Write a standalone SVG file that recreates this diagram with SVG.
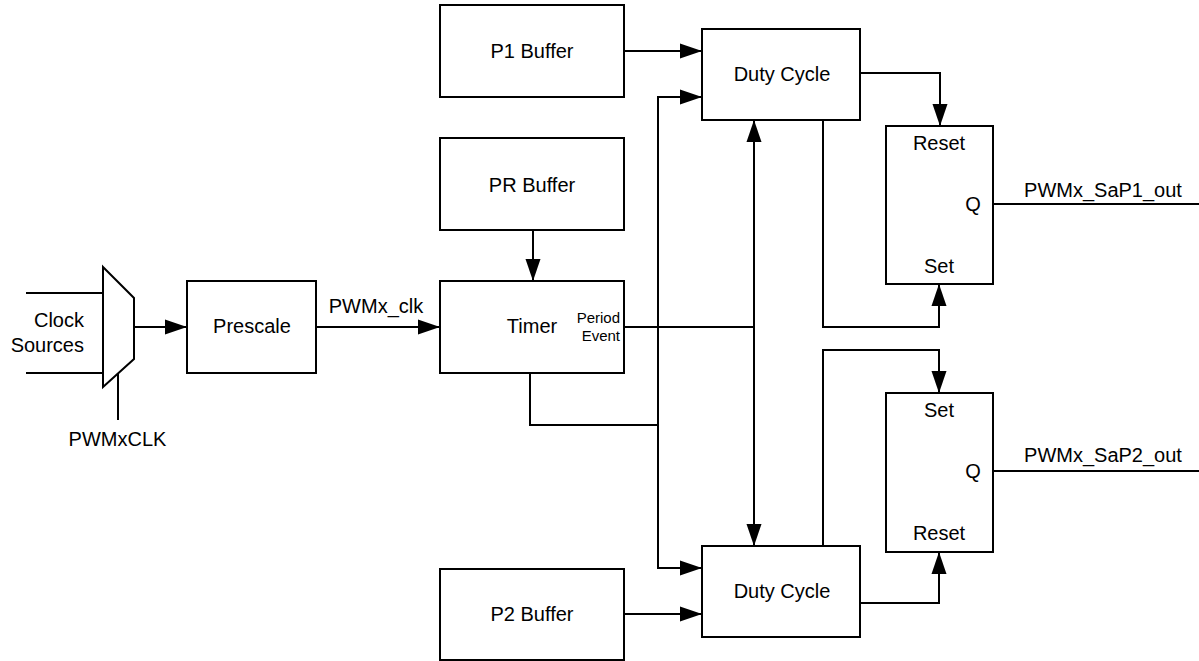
<svg xmlns="http://www.w3.org/2000/svg" width="1199" height="661" viewBox="0 0 1199 661">
<style>
.box{fill:#fff;stroke:#000;stroke-width:2}
.ln{fill:none;stroke:#000;stroke-width:2}
.t{font-family:"Liberation Sans",Arial,sans-serif;font-size:20px;fill:#000;text-anchor:middle}
.s{font-family:"Liberation Sans",Arial,sans-serif;font-size:15px;fill:#000;text-anchor:end}
</style>
<defs>
<marker id="ah" markerUnits="userSpaceOnUse" markerWidth="24" markerHeight="16" refX="22" refY="8" orient="auto-start-reverse" viewBox="0 0 24 16">
<path d="M0,0.5 L22,8 L0,15.5 z" fill="#000"/>
</marker>
</defs>
<rect width="1199" height="661" fill="#fff"/>
<g id="connectors">
<line class="ln" x1="26" y1="293" x2="103" y2="293"/>
<line class="ln" x1="26" y1="373" x2="103" y2="373"/>
<line class="ln" x1="134" y1="327" x2="187" y2="327" marker-end="url(#ah)"/>
<line class="ln" x1="118" y1="373" x2="118" y2="420"/>
<line class="ln" x1="316" y1="327" x2="440" y2="327" marker-end="url(#ah)"/>
<line class="ln" x1="533" y1="230" x2="533" y2="281" marker-end="url(#ah)"/>
<line class="ln" x1="624" y1="51" x2="702" y2="51" marker-end="url(#ah)"/>
<polyline class="ln" points="702,97 658,97 658,568 702,568" marker-start="url(#ah)" marker-end="url(#ah)"/>
<polyline class="ln" points="530,373 530,425 658,425"/>
<line class="ln" x1="624" y1="327" x2="754" y2="327"/>
<line class="ln" x1="754" y1="120" x2="754" y2="546" marker-start="url(#ah)" marker-end="url(#ah)"/>
<polyline class="ln" points="860,73 940,73 940,126" marker-end="url(#ah)"/>
<polyline class="ln" points="823,120 823,327 939,327 939,284" marker-end="url(#ah)"/>
<polyline class="ln" points="823,546 823,350 939,350 939,393" marker-end="url(#ah)"/>
<polyline class="ln" points="860,603 939,603 939,552" marker-end="url(#ah)"/>
<line class="ln" x1="993" y1="204" x2="1199" y2="204"/>
<line class="ln" x1="993" y1="471" x2="1199" y2="471"/>
<line class="ln" x1="624" y1="614" x2="702" y2="614" marker-end="url(#ah)"/>
</g>
<g id="clock-sources">
<text class="t" x="84" y="327" style="text-anchor:end">Clock</text>
<text class="t" x="84" y="352" style="text-anchor:end">Sources</text>
</g>
<g id="mux">
<polygon class="box" points="103,267 134,298 134,359 103,387"/>
<text class="t" x="117.5" y="446">PWMxCLK</text>
</g>
<g id="prescale">
<rect class="box" x="187" y="281" width="129" height="92"/>
<text class="t" x="252" y="333">Prescale</text>
</g>
<g id="pwmx-clk-label">
<text class="t" x="376" y="313">PWMx_clk</text>
</g>
<g id="timer">
<rect class="box" x="440" y="281" width="184" height="92"/>
<text class="t" x="532" y="333">Timer</text>
<text class="s" x="620" y="323">Period</text>
<text class="s" x="620" y="341">Event</text>
</g>
<g id="p1-buffer">
<rect class="box" x="440" y="5" width="184" height="92"/>
<text class="t" x="532" y="58">P1 Buffer</text>
</g>
<g id="pr-buffer">
<rect class="box" x="440" y="138" width="184" height="92"/>
<text class="t" x="532" y="192">PR Buffer</text>
</g>
<g id="p2-buffer">
<rect class="box" x="440" y="569" width="184" height="91"/>
<text class="t" x="532" y="621">P2 Buffer</text>
</g>
<g id="duty-cycle-1">
<rect class="box" x="702" y="29" width="158" height="91"/>
<text class="t" x="782" y="81">Duty Cycle</text>
</g>
<g id="duty-cycle-2">
<rect class="box" x="702" y="546" width="158" height="91"/>
<text class="t" x="782" y="598">Duty Cycle</text>
</g>
<g id="flipflop-1">
<rect class="box" x="886" y="126" width="107" height="158"/>
<text class="t" x="939" y="150">Reset</text>
<text class="t" x="973" y="211">Q</text>
<text class="t" x="939" y="273">Set</text>
<text class="t" x="1103" y="197">PWMx_SaP1_out</text>
</g>
<g id="flipflop-2">
<rect class="box" x="886" y="393" width="107" height="159"/>
<text class="t" x="939" y="417">Set</text>
<text class="t" x="973" y="478">Q</text>
<text class="t" x="939" y="540">Reset</text>
<text class="t" x="1103" y="462">PWMx_SaP2_out</text>
</g>
</svg>
